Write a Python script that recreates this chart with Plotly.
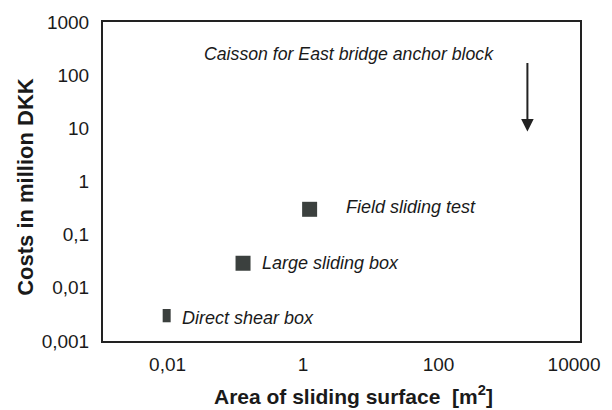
import math
import plotly.graph_objects as go

# ---- data ----
methods = ["Direct shear box", "Large sliding box", "Field sliding test"]
area_m2 = [0.0097, 0.13, 1.25]
cost_mdkk = [0.003, 0.029, 0.30]

caisson_label = "Caisson for East bridge anchor block"
caisson_area = 2050       # arrow x position (m2)
arrow_cost_from = 180     # arrow tail (million DKK)
arrow_cost_to = 8.7       # arrow tip (million DKK)

x_tickvals = [0.01, 1, 100, 10000]
x_ticktext = ["0,01", "1", "100", "10000"]
y_tickvals = [0.001, 0.01, 0.1, 1, 10, 100, 1000]
y_ticktext = ["0,001", "0,01", "0,1", "1", "10", "100", "1000"]

FONT = "Liberation Sans, Arial, Helvetica, sans-serif"
INK = "#1a1a1a"
MARK = "#3b403e"

fig = go.Figure()

# Direct shear box: narrow tall rectangle
fig.add_trace(go.Scatter(
    x=area_m2[:1], y=cost_mdkk[:1], mode="markers",
    marker=dict(symbol="line-ns", size=9.5, color=MARK, opacity=1,
                line=dict(color=MARK, width=8)),
    showlegend=False, hoverinfo="skip"))
# Large sliding box and field test: squares
fig.add_trace(go.Scatter(
    x=area_m2[1:], y=cost_mdkk[1:], mode="markers",
    marker=dict(symbol="square", size=[15, 15], color=MARK, opacity=1,
                line=dict(width=0)),
    showlegend=False, hoverinfo="skip"))

label_shift = [(13, -2), (17, 0), (34, 2)]
for name, xv, yv, (dx, dy) in zip(methods, area_m2, cost_mdkk, label_shift):
    fig.add_annotation(x=math.log10(xv), y=math.log10(yv), xref="x", yref="y",
                       text="<i>" + name + "</i>", showarrow=False,
                       xanchor="left", yanchor="middle", xshift=dx, yshift=dy,
                       font=dict(family=FONT, size=18, color=INK))

# caisson note
fig.add_annotation(x=0.5, y=1.0, xref="paper", yref="paper",
                   text="<i>" + caisson_label + "</i>", showarrow=False,
                   xanchor="center", yanchor="middle", xshift=7, yshift=-32,
                   font=dict(family=FONT, size=17.7, color=INK))

# arrow
fig.add_annotation(x=math.log10(caisson_area), y=math.log10(arrow_cost_to),
                   ax=math.log10(caisson_area), ay=math.log10(arrow_cost_from),
                   xref="x", yref="y", axref="x", ayref="y",
                   showarrow=True, arrowhead=2, arrowsize=1.25, arrowwidth=2,
                   arrowcolor="#222222", text="")

# axis titles
fig.add_annotation(x=-0.163, y=0.484, xref="paper", yref="paper",
                   text="<b>Costs in million DKK</b>", textangle=-90, showarrow=False,
                   xanchor="center", yanchor="middle",
                   font=dict(family=FONT, size=22, color=INK))
fig.add_annotation(x=0.525, y=-0.169, xref="paper", yref="paper",
                   text="<b>Area of sliding surface  [m<sup>2</sup>]</b>", showarrow=False,
                   xanchor="center", yanchor="middle",
                   font=dict(family=FONT, size=21, color=INK))

axis_common = dict(type="log", showgrid=False, zeroline=False, showline=True,
                   mirror=True, linewidth=2, linecolor="#222222", ticks="",
                   tickfont=dict(family=FONT, size=19, color=INK))

fig.update_xaxes(range=[-2.953, 4.088], tickvals=x_tickvals, ticktext=x_ticktext,
                 ticklabelstandoff=5, **axis_common)
fig.update_yaxes(range=[-3, 3], tickvals=y_tickvals, ticktext=y_ticktext,
                 ticklabelstandoff=8, **axis_common)

fig.update_layout(width=612, height=410,
                  margin=dict(l=103, r=29, t=21, b=69),
                  paper_bgcolor="white", plot_bgcolor="white",
                  font=dict(family=FONT, color=INK))

fig.write_html("out.html")
